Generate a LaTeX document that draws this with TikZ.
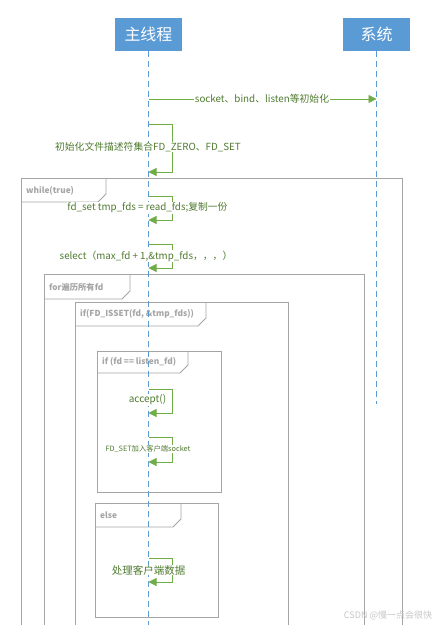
\documentclass[tikz,border=0pt]{standalone}
\usepackage{fontspec}
\setmainfont{Noto Sans CJK SC}
\usetikzlibrary{arrows.meta}
\definecolor{hdrblue}{HTML}{5B9BD5}
\definecolor{msggreen}{HTML}{70AD47}
\definecolor{txtgreen}{HTML}{4F7B30}
\definecolor{framegray}{HTML}{A5A5A5}
\tikzset{
  hdr/.style={draw=none,fill=hdrblue,text=white,minimum width=67pt,minimum height=33pt,inner sep=0pt,font=\fontsize{16}{18}\selectfont},
  lifeline/.style={draw=hdrblue,line width=0.8pt,dash pattern=on 6pt off 4pt},
  msg/.style={draw=msggreen,line width=0.8pt,-{Triangle[length=8pt,width=8pt]}},
  msglabel/.style={fill=white,text=txtgreen,inner sep=0.5pt,font=\fontsize{9.8}{11}\selectfont},
  framebox/.style={draw=framegray,line width=0.9pt},
  framelabel/.style={text=framegray,anchor=west,inner sep=0pt,font=\fontsize{8.3}{10}\selectfont\bfseries},
}
\begin{document}
\begin{tikzpicture}[x=1pt,y=-1pt]
\useasboundingbox (0,0) rectangle (440,625);
\clip (0,0) rectangle (440,625);
\fill[white] (0,0) rectangle (440,625);

% frames (drawn first)
% while
\draw[framebox] (21,178) rectangle (402,660);
\draw[framebox] (21,202) -- (98,202) -- (106,194) -- (106,178);
\node[framelabel] (lwhile) at (26,191) {while(true)};
% for
\draw[framebox] (44,274) rectangle (364,660);
\draw[framebox] (44,299) -- (122,299) -- (130,291) -- (130,274);
\node[framelabel] (lfor) at (49,287) {for遍历所有fd};
% if FD_ISSET
\draw[framebox] (75,302) rectangle (288,660);
\draw[framebox] (75,326) -- (198,326) -- (206,318) -- (206,302);
\node[framelabel] (lisset) at (80,314) {if(FD\_ISSET(fd, \&tmp\_fds))};
% if listen
\draw[framebox] (97,351) rectangle (221,492);
\draw[framebox] (97,373) -- (180,373) -- (188,365) -- (188,351);
\node[framelabel] (llisten) at (102,362) {if (fd == listen\_fd)};
% else
\draw[framebox] (95,503) rectangle (218,617);
\draw[framebox] (95,527) -- (173,527) -- (181,519) -- (181,503);
\node[framelabel] (lelse) at (100,515) {else};

% headers and lifelines
\node[hdr] (main) at (148.5,34.5) {主线程};
\node[hdr] (sys) at (376.5,34.5) {系统};
\coordinate (mainend) at (148.5,625);
\coordinate (sysend) at (376.5,404);
\draw[lifeline] (main.south) -- (mainend);
\draw[lifeline] (sys.south) -- (sysend);

% message socket
\coordinate (m0a) at (148.5,99);
\coordinate (m0b) at (376.5,99);
\draw[msg] (m0a) -- (m0b);
\node[msglabel] (l0) at (262,99) {socket、bind、listen等初始化};

% self messages
\coordinate (s1a) at (148.5,124); \coordinate (s1b) at (148.5,172);
\draw[msg] (s1a) -- ++(24,0) |- (s1b);
\node[msglabel] (l1) at (148,147) {初始化文件描述符集合FD\_ZERO、FD\_SET};

\coordinate (s2a) at (148.5,196); \coordinate (s2b) at (148.5,220);
\draw[msg] (s2a) -- ++(24,0) |- (s2b);
\node[msglabel] (l2) at (147.5,208) {fd\_set tmp\_fds = read\_fds;复制一份};

\coordinate (s3a) at (148.5,244); \coordinate (s3b) at (148.5,268);
\draw[msg] (s3a) -- ++(24,0) |- (s3b);
\node[msglabel] (l3) at (146,256) {select（max\_fd + 1,\&tmp\_fds，，，）};

\coordinate (s4a) at (148.5,389); \coordinate (s4b) at (148.5,413);
\draw[msg] (s4a) -- ++(24,0) |- (s4b);
\node[msglabel,font=\fontsize{10}{12}\selectfont] (l4) at (147.5,400) {accept()};

\coordinate (s5a) at (148.5,437); \coordinate (s5b) at (148.5,462);
\draw[msg] (s5a) -- ++(24,0) |- (s5b);
\node[msglabel,font=\fontsize{7.3}{8}\selectfont] (l5) at (148,449) {FD\_SET加入客户端socket};

\coordinate (s6a) at (148.5,558); \coordinate (s6b) at (148.5,582);
\draw[msg] (s6a) -- ++(24,0) |- (s6b);
\node[msglabel,font=\fontsize{10.5}{12}\selectfont] (l6) at (148.5,570) {处理客户端数据};

% watermark
\node[text=black!22,inner sep=0pt,font=\fontsize{9}{10}\selectfont] (wm) at (388,615) {CSDN @慢一点会很快};
\end{tikzpicture}
\end{document}
